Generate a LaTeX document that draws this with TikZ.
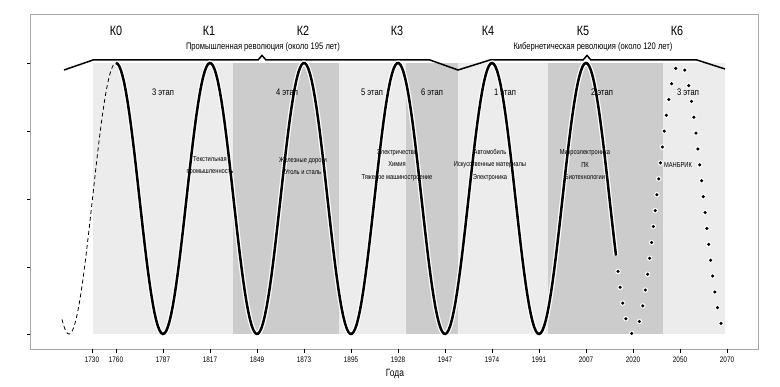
\documentclass[tikz,border=0pt]{standalone}
\usepackage{fontspec}
\setmainfont{Liberation Sans}[FakeStretch=0.8]
\definecolor{bandlight}{gray}{0.925}
\definecolor{banddark}{gray}{0.8}
\tikzset{
  klabel/.style={font=\fontsize{13.5}{15}\selectfont},
  revlabel/.style={font=\fontsize{9.5}{11}\selectfont},
  stagelabel/.style={font=\fontsize{9.5}{11}\selectfont},
  fieldlabel/.style={font=\fontsize{7.2}{12.5}\selectfont, align=center, inner sep=1pt},
  yearlabel/.style={font=\fontsize{8}{9}\selectfont},
  wave/.style={line width=2.5pt, preaction={draw=white, line width=5pt}},
}
\begin{document}
\begin{tikzpicture}[x=1pt,y=-1pt]
  \useasboundingbox[fill=white] (0,0) rectangle (780,387);
  \fill[bandlight] (93,63) rectangle (233,334);
  \fill[banddark] (233,63) rectangle (339,334);
  \fill[bandlight] (339,63) rectangle (406,334);
  \fill[banddark] (406,63) rectangle (458,334);
  \fill[bandlight] (458,63) rectangle (548,334);
  \fill[banddark] (548,63) rectangle (663,334);
  \fill[bandlight] (663,63) rectangle (725,334);
  \draw[gray!70] (30,14) rectangle (758,349);
  \foreach \y in {63,131,199,267,334}
    \draw (27,\y) -- (30,\y);
  \foreach \x/\yr in {92/1730,116/1760,163/1787,210/1817,257/1849,304/1873,351/1895,398/1928,445/1947,492/1974,539/1991,586/2007,633/2020,680/2050,727/2070}{
    \draw (\x,349) -- (\x,353);
    \node[yearlabel] (y\yr) at (\x,360) {\yr};
  }
  \node[font=\fontsize{10.5}{12}\selectfont] (years) at (395,374) {Года};
  \draw[line width=1.5pt] (64,70) -- (93,60) -- (258,60) -- (262,55.5) -- (266,60) -- (430,60) -- (458,70)
    -- (490,60) -- (583,60) -- (587,55.5) -- (591,60) -- (697,60) -- (725,69);
  \draw[line width=0.8pt, dash pattern=on 4pt off 3pt] plot[domain=62:116, samples=60] (\x,{198.5-135.5*cos(3.8298*(\x-116))});
  \draw[wave] plot[domain=116:616, samples=300] (\x,{198.5-135.5*cos(3.8298*(\x-116))});
  \draw[line width=3.5pt, line cap=round, dash pattern=on 0pt off 16pt,
    preaction={draw=white, line width=5.5pt, line cap=round, dash pattern=on 0pt off 16pt}]
    plot[domain=618:727, samples=80] (\x,{198.5-135.5*cos(3.8298*(\x-116))});
  \node[klabel] (k0) at (116,31) {К0};
  \node[klabel] (k1) at (209,31) {К1};
  \node[klabel] (k2) at (303,31) {К2};
  \node[klabel] (k3) at (397,31) {К3};
  \node[klabel] (k4) at (488,31) {К4};
  \node[klabel] (k5) at (583,31) {К5};
  \node[klabel] (k6) at (677,31) {К6};
  \node[revlabel] (ind) at (263,47) {Промышленная революция (около 195 лет)};
  \node[revlabel] (cyb) at (593,47) {Кибернетическая революция (около 120 лет)};
  \node[stagelabel] (s3) at (163,92) {3 этап};
  \node[stagelabel] (s4) at (287,92) {4 этап};
  \node[stagelabel] (s5) at (372,92) {5 этап};
  \node[stagelabel] (s6) at (432,92) {6 этап};
  \node[stagelabel] (c1) at (505,92) {1 этап};
  \node[stagelabel] (c2) at (602,92) {2 этап};
  \node[stagelabel] (c3) at (688,92) {3 этап};
  \node[fieldlabel] (f1) at (210,166) {Текстильная\\промышленность};
  \node[fieldlabel] (f2) at (303,166) {Железные дороги\\Уголь и сталь};
  \node[fieldlabel] (f3) at (397,165) {Электричество\\Химия\\Тяжелое машиностроение};
  \node[fieldlabel] (f4) at (490,165) {Автомобиль\\Искусственные материалы\\Электроника};
  \node[fieldlabel] (f5) at (585,165) {Микроэлектроника\\ПК\\Биотехнологии};
  \node[fieldlabel] (f6) at (678,165) {МАНБРИК};
\end{tikzpicture}
\end{document}
